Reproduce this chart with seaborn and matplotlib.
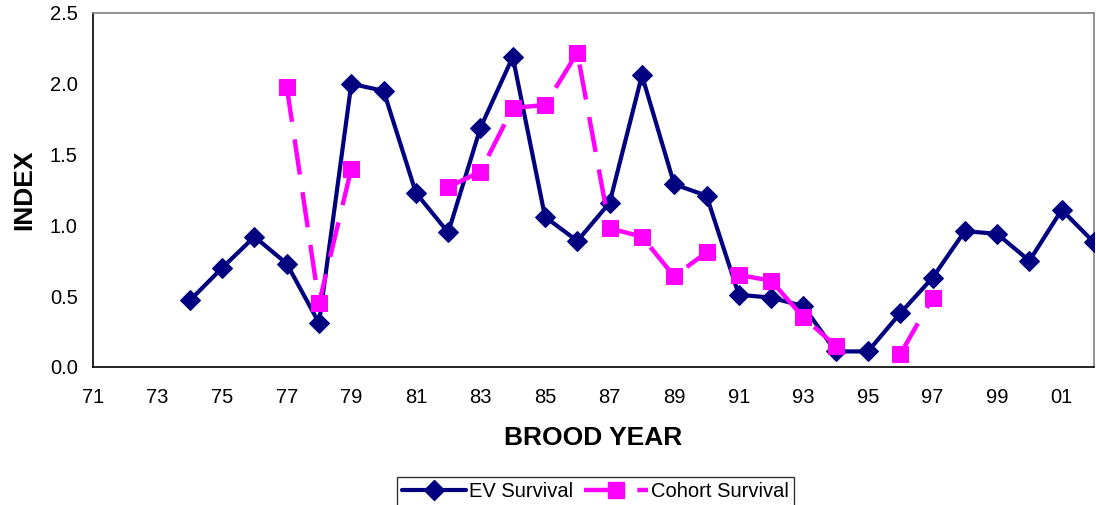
import numpy as np
import pandas as pd
import matplotlib
matplotlib.use("Agg")
import matplotlib.pyplot as plt
import seaborn as sns

# Brood years 1971-2002, labelled by two-digit year
years = list(range(1971, 2003))
year_labels = [f"{y % 100:02d}" for y in years]

ev_survival = [np.nan, np.nan, np.nan, 0.47, 0.70, 0.92, 0.73, 0.31, 2.00, 1.95,
               1.23, 0.95, 1.69, 2.19, 1.06, 0.89, 1.16, 2.06, 1.29, 1.21,
               0.51, 0.49, 0.43, 0.11, 0.11, 0.38, 0.63, 0.96, 0.94, 0.75,
               1.11, 0.88]

cohort_survival = [np.nan, np.nan, np.nan, np.nan, np.nan, np.nan, 1.98, 0.45, 1.40, np.nan,
                   np.nan, 1.27, 1.38, 1.83, 1.85, 2.22, 0.98, 0.92, 0.64, 0.81,
                   0.65, 0.61, 0.35, 0.15, np.nan, 0.09, 0.49, np.nan, np.nan, np.nan,
                   np.nan, np.nan]

NAVY = "#000080"
MAGENTA = "#FF00FF"
DASH = [8, 4]

sns.set_style("white")
plt.rcParams["font.family"] = ["Liberation Sans", "DejaVu Sans"]
plt.rcParams["text.color"] = "black"
plt.rcParams["axes.labelcolor"] = "black"
plt.rcParams["xtick.color"] = "black"
plt.rcParams["ytick.color"] = "black"

fig = plt.figure(figsize=(10.96, 5.05), dpi=100)
ax = fig.add_axes([93 / 1096, 1 - 367 / 505, (1094 - 93) / 1096, (367 - 13) / 505])

x_pos = np.arange(len(years))
df = pd.DataFrame({"pos": x_pos, "ev": ev_survival, "cohort": cohort_survival})


def segments(col):
    """Split a series into runs of consecutive non-missing values."""
    valid = df[col].notna().to_numpy()
    runs, start = [], None
    for i, v in enumerate(valid):
        if v and start is None:
            start = i
        if (not v or i == len(valid) - 1) and start is not None:
            end = i if v else i - 1
            runs.append(df.iloc[start:end + 1])
            start = None
    return runs


for seg in segments("ev"):
    sns.lineplot(data=seg, x="pos", y="ev", ax=ax, color=NAVY, lw=3.0,
                 marker="D", markersize=10, markeredgecolor=NAVY,
                 markerfacecolor=NAVY, estimator=None, zorder=3)

cohort_runs = segments("cohort")
for seg in cohort_runs:
    sns.lineplot(data=seg, x="pos", y="cohort", ax=ax, color=MAGENTA, lw=3.2,
                 marker="s", markersize=12, markeredgecolor=MAGENTA,
                 markerfacecolor=MAGENTA, estimator=None, zorder=4)
for ln in ax.lines[-len(cohort_runs):]:
    ln.set_dashes(DASH)

ax.set_xlim(0, len(years) - 1)
ax.set_ylim(0, 2.5)
ax.set_xticks(x_pos)
ax.set_xticklabels([lab if i % 2 == 0 else "" for i, lab in enumerate(year_labels)],
                   fontsize=14.5)
ax.set_yticks(np.arange(0, 2.51, 0.5))
ax.set_yticklabels([f"{v:.1f}" for v in np.arange(0, 2.51, 0.5)], fontsize=14.5)
ax.tick_params(axis="x", direction="out", length=6, width=1, color="black", pad=9)
ax.tick_params(axis="y", direction="out", length=6, width=1, color="black", pad=5)

for side in ("left", "bottom"):
    ax.spines[side].set_color("black")
    ax.spines[side].set_linewidth(1.2)
for side in ("top", "right"):
    ax.spines[side].set_color("#808080")
    ax.spines[side].set_linewidth(1.2)

ax.set_xlabel("BROOD YEAR", fontsize=19, fontweight="bold", labelpad=14)
ax.set_ylabel("INDEX", fontsize=19, fontweight="bold", labelpad=10)

handles = [
    plt.Line2D([], [], color=NAVY, lw=3.0, marker="D", markersize=10),
    plt.Line2D([], [], color=MAGENTA, lw=3.2, marker="s", markersize=12,
               dashes=DASH),
]
leg = ax.legend(handles, ["EV Survival", "Cohort Survival"], ncol=2,
                loc="upper center", bbox_to_anchor=(0.502, -0.311),
                frameon=True, fancybox=False, edgecolor="black",
                fontsize=14.5, handlelength=3.2, handletextpad=0.15,
                columnspacing=0.5, borderpad=0.25, borderaxespad=0)
leg.get_frame().set_linewidth(1.0)

fig.savefig("out.png", dpi=100)
